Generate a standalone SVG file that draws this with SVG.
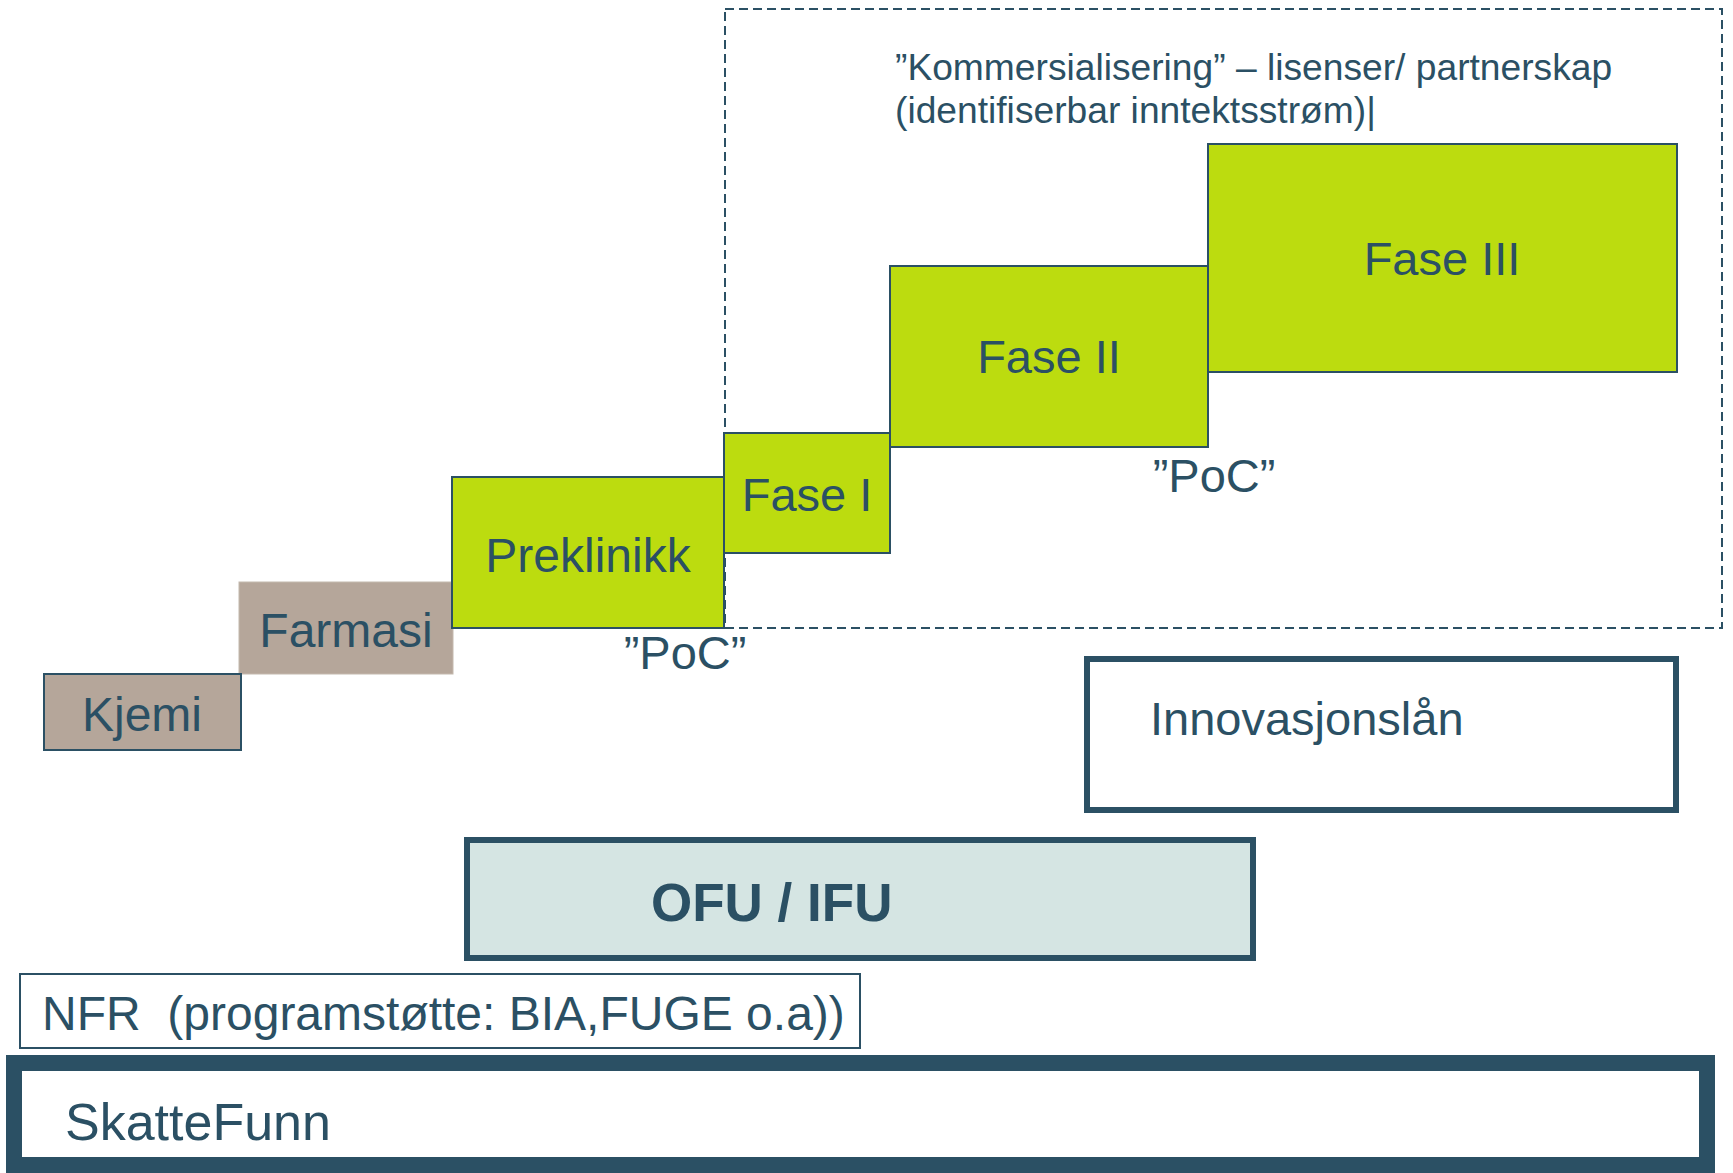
<svg xmlns="http://www.w3.org/2000/svg" width="1733" height="1173" viewBox="0 0 1733 1173">
  <style>
    text { font-family: "Liberation Sans", Arial, sans-serif; fill: #2b5064; }
    .c { text-anchor: middle; }
    .tan { fill: #b5a69a; }
    .green { fill: #bcdc0f; stroke: #2b5064; stroke-width: 2; }
    .thin { fill: #ffffff; stroke: #2b5064; stroke-width: 2; }
    .thick { fill: #ffffff; stroke: #2b5064; stroke-width: 6; }
    .big { font-size: 48px; }
    .ph { font-size: 47px; }
  </style>
  <rect width="1733" height="1173" fill="#ffffff"/>

  <g id="farmasi">
    <rect class="tan" x="239" y="582" width="214" height="92" stroke="#c4b9ae" stroke-width="1"/>
    <text class="c big" x="346" y="647">Farmasi</text>
  </g>
  <g id="kjemi">
    <rect class="tan" x="44" y="674" width="197" height="76" stroke="#2b5064" stroke-width="2"/>
    <text class="c big" x="142" y="731">Kjemi</text>
  </g>
  <g id="preklinikk">
    <rect class="green" x="452" y="477" width="272" height="151"/>
    <text class="c big" x="588" y="572">Preklinikk</text>
  </g>

  <g id="kommersialisering">
    <rect x="725" y="9" width="997" height="619" fill="none" stroke="#2b5064" stroke-width="2" stroke-dasharray="9,5"/>
    <text x="895" y="80" font-size="37.2">”Kommersialisering” – lisenser/ partnerskap</text>
    <text x="895" y="123" font-size="37.2">(identifiserbar inntektsstrøm)|</text>
  </g>

  <g id="fase1">
    <rect class="green" x="724" y="433" width="166" height="120"/>
    <text class="c ph" x="807" y="511">Fase I</text>
  </g>
  <g id="fase2">
    <rect class="green" x="890" y="266" width="318" height="181"/>
    <text class="c ph" x="1049" y="373">Fase II</text>
  </g>
  <g id="fase3">
    <rect class="green" x="1208" y="144" width="469" height="228"/>
    <text class="c ph" x="1442" y="275">Fase III</text>
  </g>

  <g id="poc1">
    <text class="c ph" x="685" y="669">”PoC”</text>
  </g>
  <g id="poc2">
    <text class="c ph" x="1214" y="492">”PoC”</text>
  </g>

  <g id="innovasjonslan">
    <rect class="thick" x="1087" y="659" width="589" height="151"/>
    <text x="1150" y="735" font-size="47">Innovasjonslån</text>
  </g>

  <g id="ofu-ifu">
    <rect x="467" y="840" width="786" height="118" fill="#d5e5e3" stroke="#2b5064" stroke-width="6"/>
    <text x="651" y="921" font-size="53" font-weight="bold">OFU / IFU</text>
  </g>

  <g id="nfr">
    <rect class="thin" x="20" y="974" width="840" height="74"/>
    <text x="42" y="1030" font-size="48" xml:space="preserve" style="white-space:pre">NFR  (programstøtte: BIA,FUGE o.a))</text>
  </g>

  <g id="skattefunn">
    <rect x="14" y="1063" width="1693" height="102" fill="#ffffff" stroke="#2b5064" stroke-width="16"/>
    <text x="65" y="1140" font-size="52">SkatteFunn</text>
  </g>

  <g id="connectors"/>
</svg>
